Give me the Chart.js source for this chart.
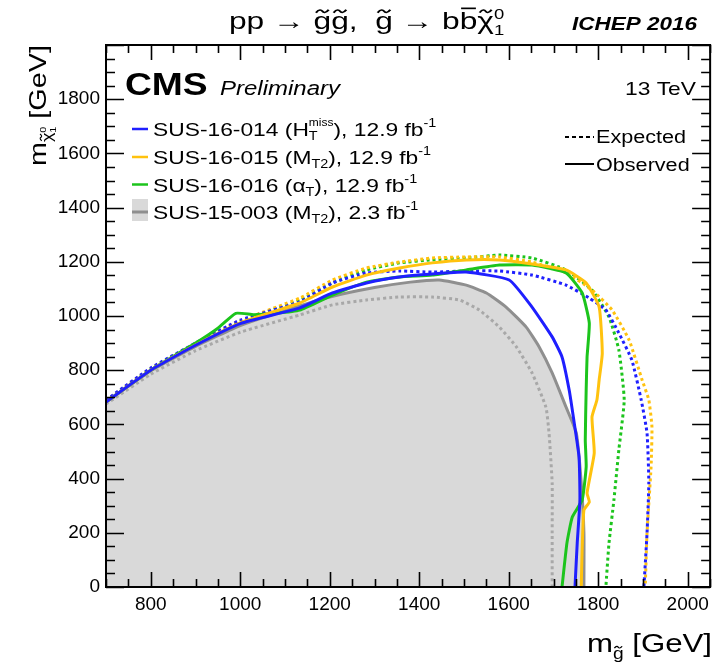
<!DOCTYPE html>
<html>
<head>
<meta charset="utf-8">
<script src="https://cdn.jsdelivr.net/npm/chart.js@4.4.0/dist/chart.umd.min.js"></script>
<style>
  html, body { margin: 0; padding: 0; background: #fff; }
  canvas { display: block; }
</style>
</head>
<body>
<canvas id="limits" width="715" height="671" style="width:715px;height:671px"></canvas>
<script>
// axis ticks
const xTicks = [800, 1000, 1200, 1400, 1600, 1800, 2000];
const yTicks = [0, 200, 400, 600, 800, 1000, 1200, 1400, 1600, 1800];

// SUS-16-014 (HT miss) contours
const blueObsX = [700, 800, 900, 1000, 1133, 1206, 1282, 1356, 1429, 1505, 1601, 1652, 1697, 1719, 1735, 1745, 1757, 1759, 1753, 1748];
const blueObsY = [683, 800, 892, 972, 1030, 1085, 1122, 1144, 1155, 1162, 1133, 1033, 923, 849, 727, 620, 480, 321, 162, 0];
const blueExpX = [700, 800, 900, 1000, 1133, 1206, 1282, 1356, 1429, 1505, 1579, 1652, 1728, 1780, 1817, 1846, 1875, 1896, 1909, 1913, 1909, 1902];
const blueExpY = [690, 808, 900, 985, 1052, 1122, 1159, 1166, 1162, 1166, 1166, 1151, 1114, 1066, 1022, 937, 838, 690, 568, 384, 199, 0];

// SUS-16-015 (MT2) contours
const yellowObsX = [700, 800, 900, 1000, 1133, 1206, 1282, 1356, 1429, 1505, 1579, 1652, 1728, 1773, 1802, 1809, 1802, 1797, 1786, 1791, 1775, 1780, 1768, 1764, 1762];
const yellowObsY = [683, 800, 893, 975, 1048, 1107, 1151, 1177, 1196, 1207, 1207, 1192, 1170, 1122, 1033, 863, 764, 690, 627, 494, 347, 314, 284, 137, 0];
const yellowExpX = [700, 800, 900, 1000, 1133, 1206, 1282, 1356, 1429, 1505, 1579, 1652, 1728, 1786, 1831, 1869, 1898, 1913, 1920, 1918, 1909, 1905];
const yellowExpY = [688, 806, 898, 982, 1066, 1133, 1177, 1199, 1214, 1218, 1218, 1199, 1159, 1096, 1022, 911, 764, 690, 590, 443, 199, 0];

// SUS-16-016 (alphaT) contours
const greenObsX = [700, 800, 900, 950, 990, 1030, 1080, 1133, 1206, 1282, 1356, 1429, 1505, 1579, 1652, 1728, 1764, 1780, 1775, 1773, 1771, 1773, 1764, 1742, 1730, 1719];
const greenObsY = [683, 800, 900, 955, 1010, 1005, 1010, 1022, 1077, 1125, 1144, 1151, 1170, 1188, 1188, 1159, 1085, 974, 849, 727, 542, 443, 321, 258, 162, 0];
const greenExpX = [700, 800, 900, 1000, 1133, 1206, 1282, 1356, 1429, 1505, 1579, 1652, 1728, 1786, 1824, 1846, 1858, 1846, 1835, 1824, 1817];
const greenExpY = [686, 804, 896, 980, 1059, 1122, 1170, 1196, 1207, 1214, 1225, 1214, 1170, 1096, 996, 875, 690, 506, 321, 162, 0];

// SUS-15-003 (MT2, 2.3 fb-1) contours
const grayObsX = [700, 800, 900, 1000, 1100, 1200, 1300, 1380, 1445, 1505, 1550, 1594, 1639, 1668, 1697, 1728, 1751, 1762, 1768, 1768];
const grayObsY = [683, 798, 888, 965, 1020, 1070, 1105, 1125, 1133, 1114, 1085, 1033, 959, 886, 790, 664, 568, 384, 199, 0];
const grayExpX = [700, 800, 900, 1000, 1133, 1206, 1282, 1356, 1429, 1490, 1534, 1579, 1617, 1652, 1683, 1690, 1697, 1697, 1697];
const grayExpY = [675, 785, 872, 940, 1004, 1041, 1059, 1070, 1070, 1059, 1022, 959, 886, 790, 664, 568, 384, 199, 0];

const BLUE = '#1f1fff', YELLOW = '#ffc20e', GREEN = '#1cc41c', GRAY = '#8f8f8f', GRAY_EXP = '#a8a8a8', FILL = '#d9d9d9';
const FAMILY = '"Liberation Sans", Arial, sans-serif';

function points(xs, ys) {
  return xs.map((x, i) => ({ x: x, y: ys[i] }));
}

function contour(xs, ys, color, dotted, order) {
  return {
    data: points(xs, ys),
    borderColor: color,
    borderWidth: 3,
    borderDash: dotted ? [3, 3] : [],
    pointRadius: 0,
    showLine: true,
    tension: 0.15,
    fill: false,
    order: order
  };
}

function fontOf(p) {
  return (p.italic ? 'italic ' : '') + (p.bold ? 'bold ' : '') + p.size + 'px ' + FAMILY;
}

// draws a run of text pieces (sub/superscripts, tildes, bars) on one baseline,
// stretched horizontally by sx
function drawRich(ctx, parts, x, y, align, sx) {
  sx = sx || 1.2;
  let cur = 0, lastStart = 0, lastW = 0;
  const placed = [];
  for (const p of parts) {
    ctx.font = fontOf(p);
    const w = ctx.measureText(p.t).width;
    let start;
    if (p.stack) {
      start = lastStart;
      const adv = Math.max(lastW, w);
      cur = start + adv;
      lastW = adv;
    } else {
      start = cur;
      cur += w;
      lastStart = start;
      lastW = w;
    }
    placed.push({ p: p, start: start, w: w });
  }
  const total = cur * sx;
  const x0 = align === 'right' ? x - total : align === 'center' ? x - total / 2 : x;
  ctx.save();
  ctx.translate(x0, y);
  ctx.scale(sx, 1);
  ctx.textAlign = 'left';
  ctx.textBaseline = 'alphabetic';
  ctx.fillStyle = '#000';
  ctx.strokeStyle = '#000';
  for (const it of placed) {
    const p = it.p, dy = p.dy || 0;
    ctx.font = fontOf(p);
    ctx.fillText(p.t, it.start, dy);
    if (p.deco === 'tilde') {
      const cx = it.start + it.w / 2, ty = dy - p.size * 0.74;
      const hw = it.w * 0.36, h = p.size * 0.06;
      ctx.lineWidth = Math.max(1, p.size * 0.07);
      ctx.beginPath();
      ctx.moveTo(cx - hw, ty + h);
      ctx.bezierCurveTo(cx - hw * 0.5, ty - h * 1.6, cx - hw * 0.15, ty - h, cx, ty);
      ctx.bezierCurveTo(cx + hw * 0.15, ty + h, cx + hw * 0.5, ty + h * 1.6, cx + hw, ty - h);
      ctx.stroke();
    } else if (p.deco === 'bar') {
      ctx.lineWidth = Math.max(1, p.size * 0.07);
      ctx.beginPath();
      ctx.moveTo(it.start + it.w * 0.08, dy - p.size * 0.86);
      ctx.lineTo(it.start + it.w * 0.92, dy - p.size * 0.86);
      ctx.stroke();
    }
  }
  ctx.restore();
}

// ROOT style frame: ticks inside on all four sides
const frameTicks = {
  id: 'frameTicks',
  afterDatasetsDraw(chart) {
    const ctx = chart.ctx, a = chart.chartArea, xs = chart.scales.x, ys = chart.scales.y;
    ctx.save();
    ctx.strokeStyle = '#000';
    ctx.lineWidth = 1.6;
    ctx.beginPath();
    for (let v = xs.min; v <= xs.max; v += 50) {
      const px = Math.round(xs.getPixelForValue(v)) + 0.5;
      const len = v % 200 === 0 ? 15 : 8;
      ctx.moveTo(px, a.bottom); ctx.lineTo(px, a.bottom - len);
      ctx.moveTo(px, a.top); ctx.lineTo(px, a.top + len);
    }
    for (let v = ys.min; v <= ys.max; v += 50) {
      const py = Math.round(ys.getPixelForValue(v)) + 0.5;
      const len = v % 200 === 0 ? 18 : 9;
      ctx.moveTo(a.left, py); ctx.lineTo(a.left + len, py);
      ctx.moveTo(a.right, py); ctx.lineTo(a.right - len, py);
    }
    ctx.stroke();
    ctx.lineWidth = 2;
    ctx.strokeRect(a.left, a.top, a.right - a.left, a.bottom - a.top);
    ctx.restore();
  }
};

// titles, CMS label and legends
const labels = {
  id: 'labels',
  afterDraw(chart) {
    const ctx = chart.ctx;
    const title = [
      { t: 'pp \u2192 ', size: 24 },
      { t: 'g', size: 24, deco: 'tilde' },
      { t: 'g', size: 24, deco: 'tilde' },
      { t: ',  ', size: 24 },
      { t: 'g', size: 24, deco: 'tilde' },
      { t: ' \u2192 b', size: 24 },
      { t: 'b', size: 24, deco: 'bar' },
      { t: '\u03c7', size: 24, deco: 'tilde' },
      { t: '0', size: 14, dy: -10 },
      { t: '1', size: 14, dy: 6, stack: true }
    ];
    drawRich(ctx, title, 229, 29, 'left', 1.32);
    drawRich(ctx, [{ t: 'ICHEP 2016', size: 18, bold: true, italic: true }], 697, 30, 'right', 1.25);

    drawRich(ctx, [{ t: 'CMS', size: 31, bold: true }], 125, 95, 'left');
    drawRich(ctx, [{ t: 'Preliminary', size: 20, italic: true }], 220, 95, 'left');
    drawRich(ctx, [{ t: '13 TeV', size: 19 }], 696, 95, 'right');

    const rows = [
      { color: BLUE, parts: [{ t: 'SUS-16-014 (H', size: 19 }, { t: 'T', size: 12, dy: 4 }, { t: 'miss', size: 10, dy: -10, stack: true }, { t: '), 12.9 fb', size: 19 }, { t: '-1', size: 12, dy: -9 }] },
      { color: YELLOW, parts: [{ t: 'SUS-16-015 (M', size: 19 }, { t: 'T2', size: 12, dy: 4 }, { t: '), 12.9 fb', size: 19 }, { t: '-1', size: 12, dy: -9 }] },
      { color: GREEN, parts: [{ t: 'SUS-16-016 (\u03b1', size: 19 }, { t: 'T', size: 12, dy: 4 }, { t: '), 12.9 fb', size: 19 }, { t: '-1', size: 12, dy: -9 }] },
      { color: GRAY, box: true, parts: [{ t: 'SUS-15-003 (M', size: 19 }, { t: 'T2', size: 12, dy: 4 }, { t: '), 2.3 fb', size: 19 }, { t: '-1', size: 12, dy: -9 }] }
    ];
    const baselines = [136, 164, 191.5, 219];
    rows.forEach((r, i) => {
      const b = baselines[i];
      ctx.save();
      if (r.box) {
        ctx.fillStyle = FILL;
        ctx.fillRect(132, b - 20, 16, 22);
      }
      ctx.strokeStyle = r.color;
      ctx.lineWidth = r.box ? 3 : 2.5;
      ctx.beginPath();
      ctx.moveTo(132, b - 7);
      ctx.lineTo(148, b - 7);
      ctx.stroke();
      ctx.restore();
      drawRich(ctx, r.parts, 153, b, 'left');
    });

    // line style legend
    ctx.save();
    ctx.strokeStyle = '#000';
    ctx.lineWidth = 2;
    ctx.setLineDash([4, 3]);
    ctx.beginPath(); ctx.moveTo(565, 137); ctx.lineTo(594, 137); ctx.stroke();
    ctx.setLineDash([]);
    ctx.beginPath(); ctx.moveTo(565, 164); ctx.lineTo(594, 164); ctx.stroke();
    ctx.restore();
    drawRich(ctx, [{ t: 'Expected', size: 18 }], 596, 143, 'left');
    drawRich(ctx, [{ t: 'Observed', size: 18 }], 596, 171, 'left');

    // axis titles
    drawRich(ctx, [
      { t: 'm', size: 26 },
      { t: 'g', size: 16, dy: 7, deco: 'tilde' },
      { t: ' [GeV]', size: 26 }
    ], 712, 652, 'right');
    ctx.save();
    ctx.translate(46, 45);
    ctx.rotate(-Math.PI / 2);
    drawRich(ctx, [
      { t: 'm', size: 24 },
      { t: '\u03c7', size: 15, dy: 6, deco: 'tilde' },
      { t: '0', size: 9, dy: 0 },
      { t: '1', size: 9, dy: 10, stack: true },
      { t: ' [GeV]', size: 24 }
    ], 0, 0, 'right');
    ctx.restore();
  }
};

const grayObs = contour(grayObsX, grayObsY, GRAY, false, 9);
grayObs.fill = 'origin';
grayObs.backgroundColor = FILL;

new Chart(document.getElementById('limits'), {
  type: 'scatter',
  data: {
    datasets: [
      grayObs,
      contour(grayExpX, grayExpY, GRAY_EXP, true, 8),
      contour(greenExpX, greenExpY, GREEN, true, 7),
      contour(yellowExpX, yellowExpY, YELLOW, true, 6),
      contour(blueExpX, blueExpY, BLUE, true, 5),
      contour(greenObsX, greenObsY, GREEN, false, 4),
      contour(yellowObsX, yellowObsY, YELLOW, false, 3),
      contour(blueObsX, blueObsY, BLUE, false, 2)
    ]
  },
  options: {
    responsive: false,
    animation: false,
    layout: { padding: { top: 45, right: 3, left: 0, bottom: 0 } },
    plugins: { legend: { display: false }, tooltip: { enabled: false } },
    scales: {
      x: {
        type: 'linear',
        min: 700,
        max: 2050,
        afterBuildTicks: axis => { axis.ticks = xTicks.map(v => ({ value: v })); },
        afterFit: axis => { axis.height = 84; },
        grid: { display: false, drawTicks: false },
        border: { display: false },
        ticks: { autoSkip: false, maxRotation: 0, padding: 6, color: '#000', font: { family: FAMILY, size: 19 }, callback: v => String(v) }
      },
      y: {
        type: 'linear',
        min: 0,
        max: 2000,
        afterBuildTicks: axis => { axis.ticks = yTicks.map(v => ({ value: v })); },
        afterFit: axis => { axis.width = 106; },
        grid: { display: false, drawTicks: false },
        border: { display: false },
        ticks: { autoSkip: false, padding: 6, color: '#000', font: { family: FAMILY, size: 19 }, callback: v => String(v) }
      }
    }
  },
  plugins: [frameTicks, labels]
});
</script>
</body>
</html>
